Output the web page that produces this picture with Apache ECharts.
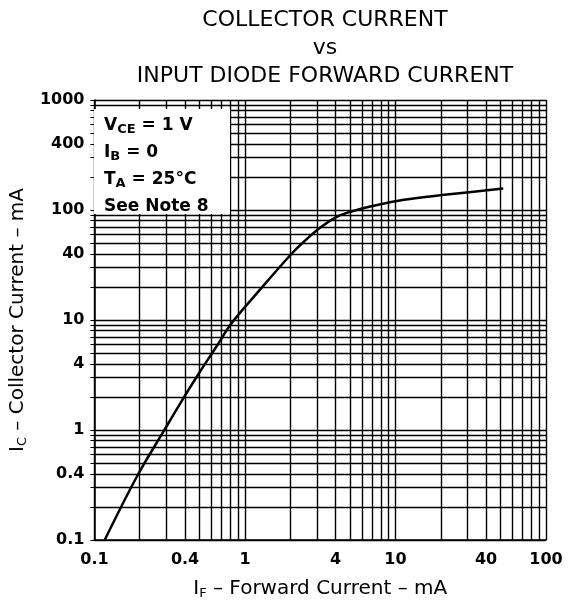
<!DOCTYPE html>
<html><head><meta charset="utf-8">
<script src="https://cdn.jsdelivr.net/npm/echarts@6/dist/echarts.min.js"></script>
<style>html,body{margin:0;padding:0;background:#fff}#c{width:568px;height:605px}</style>
</head><body><div id="c"></div>
<script>
// Curve (IF in mA, IC in mA)
const forwardCurrent   = [0.117, 0.192, 0.289, 0.392, 0.50, 0.65, 0.817, 1.29, 2.04, 2.48, 3.2, 4.1, 5.1, 6.9, 11.4, 22, 52];
const collectorCurrent = [0.1,   0.38,  0.98,  1.97,  3.35, 5.8,  9.4,   19.6, 40,   52,   70,  87,  97,  108, 124,  138, 157];

const xLabelValues = [0.1, 0.4, 1, 4, 10, 40, 100];
const yLabelValues = [0.1, 0.4, 1, 4, 10, 40, 100, 400, 1000];
const xGridValues = [0.1,0.2,0.3,0.4,0.5,0.6,0.7,0.8,0.9,1,2,3,4,5,6,7,8,9,10,20,30,40,50,60,70,80,90,100];
const yGridValues = [0.1,0.2,0.3,0.4,0.5,0.6,0.7,0.8,0.9,1,2,3,4,5,6,7,8,9,10,20,30,40,50,60,70,80,90,100,200,300,400,500,600,700,800,900,1000];

const titleLines = ['COLLECTOR CURRENT', 'vs', 'INPUT DIODE FORWARD CURRENT'];
const conditionLines = ['{m|V}{s|CE}{m| = 1 V}', '{m|I}{s|B}{m| = 0}', '{m|T}{s|A}{m| = 25°C}', '{m|See Note 8}'];
const xName = 'I{s|F} – Forward Current – mA';
const yName = 'I{s|C} – Collector Current – mA';

const FONT = 'DejaVu Sans';
const fmt = v => String(+(+v).toPrecision(3));

const chart = echarts.init(document.getElementById('c'), null, {renderer: 'canvas'});
chart.setOption({
  animation: false,
  backgroundColor: '#fff',
  title: {
    text: titleLines.join('\n'),
    left: 320, top: 1, textAlign: 'center',
    textStyle: {fontFamily: FONT, fontSize: 22, fontWeight: 'normal', color: '#000', lineHeight: 28}
  },
  grid: {left: 92, right: 22, top: 100, bottom: 64, containLabel: false},
  xAxis: {
    type: 'log', logBase: 10, min: 0.1, max: 100,
    name: xName, nameLocation: 'middle', nameGap: 38,
    nameTextStyle: {fontFamily: FONT, fontSize: 20, color: '#000',
      rich: {s: {fontFamily: FONT, fontSize: 13, color: '#000', padding: [9,0,0,0]}}},
    axisLine: {show: true, lineStyle: {color: '#000', width: 1.5}},
    axisTick: {show: false, customValues: xGridValues},
    axisLabel: {customValues: xLabelValues, formatter: fmt, margin: 12,
      fontFamily: FONT, fontSize: 16, fontWeight: 'bold', color: '#000'},
    splitLine: {show: true, lineStyle: {color: '#000', width: 1.4}}
  },
  yAxis: {
    type: 'log', logBase: 10, min: 0.1, max: 1000,
    name: yName, nameLocation: 'middle', nameGap: 65,
    nameTextStyle: {fontFamily: FONT, fontSize: 20, color: '#000',
      rich: {s: {fontFamily: FONT, fontSize: 13, color: '#000', padding: [9,0,0,0]}}},
    axisLine: {show: true, lineStyle: {color: '#000', width: 1.5}},
    axisTick: {show: true, inside: false, length: 4, customValues: yGridValues, lineStyle: {color: '#000'}},
    axisLabel: {customValues: yLabelValues, formatter: fmt, margin: 10,
      fontFamily: FONT, fontSize: 16, fontWeight: 'bold', color: '#000'},
    splitLine: {show: true, lineStyle: {color: '#000', width: 1.4}}
  },
  graphic: [
    {type: 'rect', left: 94, top: 109, shape: {width: 136, height: 105}, style: {fill: '#fff'}, z: 10},
    {type: 'text', left: 104, top: 112, z: 11,
      style: {text: conditionLines.join('\n'), lineHeight: 27,
        rich: {
          m: {fontFamily: FONT, fontSize: 17, fontWeight: 'bold', fill: '#000', lineHeight: 27},
          s: {fontFamily: FONT, fontSize: 13, fontWeight: 'bold', fill: '#000', lineHeight: 27, padding: [8,0,0,0]}
        }}}
  ],
  series: [{
    type: 'line',
    data: forwardCurrent.map((x, i) => [x, collectorCurrent[i]]),
    smooth: 0.35, showSymbol: false, symbol: 'none',
    lineStyle: {color: '#000', width: 2.5}, z: 5
  }]
});
</script></body></html>
